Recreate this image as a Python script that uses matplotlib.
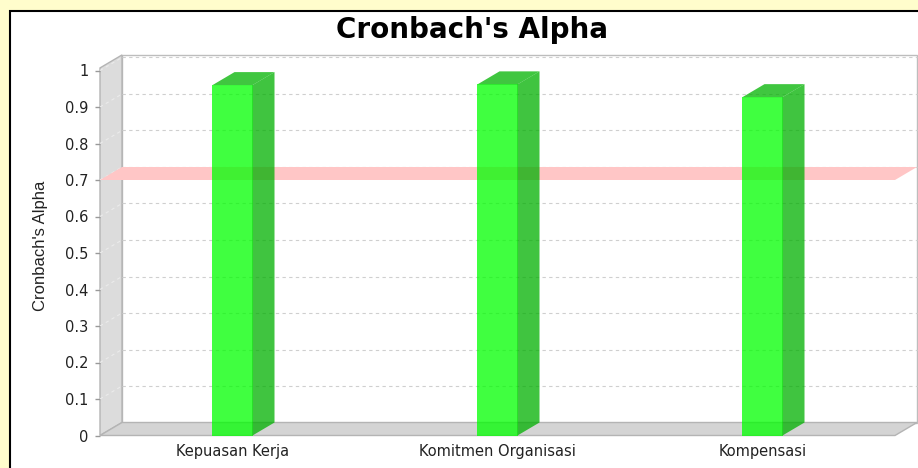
import numpy as np
import matplotlib
matplotlib.use('Agg')
import matplotlib.pyplot as plt
from matplotlib.patches import Polygon, Rectangle
from matplotlib.lines import Line2D

# ---------------------------------------------------------
# data
# ---------------------------------------------------------
categories = ['Kepuasan Kerja', 'Komitmen Organisasi', 'Kompensasi']
alpha_values = [0.960, 0.962, 0.927]
threshold = 0.7
y_ticks = [0, 0.1, 0.2, 0.3, 0.4, 0.5, 0.6, 0.7, 0.8, 0.9, 1.0]
y_tick_labels = ['0', '0.1', '0.2', '0.3', '0.4', '0.5', '0.6', '0.7', '0.8', '0.9', '1']

# ---------------------------------------------------------
# figure / panel
# ---------------------------------------------------------
W, H = 918, 468
fig = plt.figure(figsize=(W / 100, H / 100), dpi=100, facecolor='#FFFDCC')

panel = Rectangle((10 / W, -0.05), 1.0, (H - 11) / H + 0.05, transform=fig.transFigure,
                  facecolor='white', edgecolor='black', lw=1.5, zorder=-5)
fig.patches.append(panel)

y_top = 1.007
ax = fig.add_axes([100 / W, (H - 435.5) / H, 795 / W, 365 * y_top / H])
ax.set_xlim(-0.5, 2.5)
ax.set_ylim(0, y_top)
ax.patch.set_visible(False)
for s in ax.spines.values():
    s.set_visible(False)

# 3D depth offset in pixels
DX, DY = 22, 13
x0, x1 = ax.get_xlim()


def to_fig(pts):
    # pts: (x, y, depth) ; depth 0 = front plane, 1 = back plane
    disp = np.array([ax.transData.transform((x, y)) + d * np.array([DX, DY]) for x, y, d in pts])
    return fig.transFigure.inverted().transform(disp)


def face(pts, **kw):
    p = Polygon(to_fig(pts), closed=True, transform=fig.transFigure, clip_on=False, **kw)
    ax.add_patch(p)


def line(pts, **kw):
    f = to_fig(pts)
    ax.add_line(Line2D(f[:, 0], f[:, 1], transform=fig.transFigure, clip_on=False, **kw))


# back wall
face([(x0, 0, 1), (x1, 0, 1), (x1, y_top, 1), (x0, y_top, 1)],
     facecolor='white', edgecolor='#BDBDBD', lw=1, zorder=1)
# left wall
face([(x0, 0, 0), (x0, y_top, 0), (x0, y_top, 1), (x0, 0, 1)],
     facecolor='#DCDCDC', edgecolor='#B4B4B4', lw=1, zorder=1.5)

# gridlines
for v in y_ticks[1:]:
    line([(x0, v, 0), (x0, v, 1)], color='#EBEBEB', lw=0.8, ls=(0, (3, 3)), zorder=2)
    line([(x0, v, 1), (x1, v, 1)], color='#CFCFCF', lw=0.8, ls=(0, (3, 3)), zorder=2)

# floor
face([(x0, 0, 0), (x1, 0, 0), (x1, 0, 1), (x0, 0, 1)],
     facecolor='#D4D4D4', edgecolor='#B4B4B4', lw=1, zorder=2.5)

# threshold marker
face([(x0, threshold, 0), (x1, threshold, 0), (x1, threshold, 1), (x0, threshold, 1)],
     facecolor='#FFC6C6', edgecolor='none', zorder=3)

# bars (semi transparent, like the foreground alpha of the original)
bw = 0.151
for i, v in enumerate(alpha_values):
    l, r = i - bw / 2, i + bw / 2
    face([(l, 0, 0), (r, 0, 0), (r, v, 0), (l, v, 0)],
         facecolor='#00FF00', edgecolor='none', alpha=0.75, zorder=4)
    face([(r, 0, 0), (r, 0, 1), (r, v, 1), (r, v, 0)],
         facecolor='#00B000', edgecolor='none', alpha=0.75, zorder=4)
    face([(l, v, 0), (r, v, 0), (r, v, 1), (l, v, 1)],
         facecolor='#00B400', edgecolor='none', alpha=0.75, zorder=4)

# axes ticks
ax.set_yticks(y_ticks)
ax.set_yticklabels(y_tick_labels, fontsize=10.5, color='#222222')
ax.tick_params(axis='y', length=3.5, width=1, color='#999999', pad=5)
ax.set_xticks(range(len(categories)))
ax.set_xticklabels(categories, fontsize=10.5, color='#222222')
ax.tick_params(axis='x', length=0, pad=6)

# title and axis label
fig.text(472 / W, 1 - 38.3 / H, "Cronbach's Alpha", ha='center', va='baseline',
         fontsize=20, fontweight='bold', color='black')
fig.text(41 / W, 1 - 246 / H, "Cronbach's Alpha", ha='center', va='center',
         rotation=90, fontsize=12, family='Liberation Sans', color='#222222')

fig.savefig('out.png', dpi=100, facecolor=fig.get_facecolor())
